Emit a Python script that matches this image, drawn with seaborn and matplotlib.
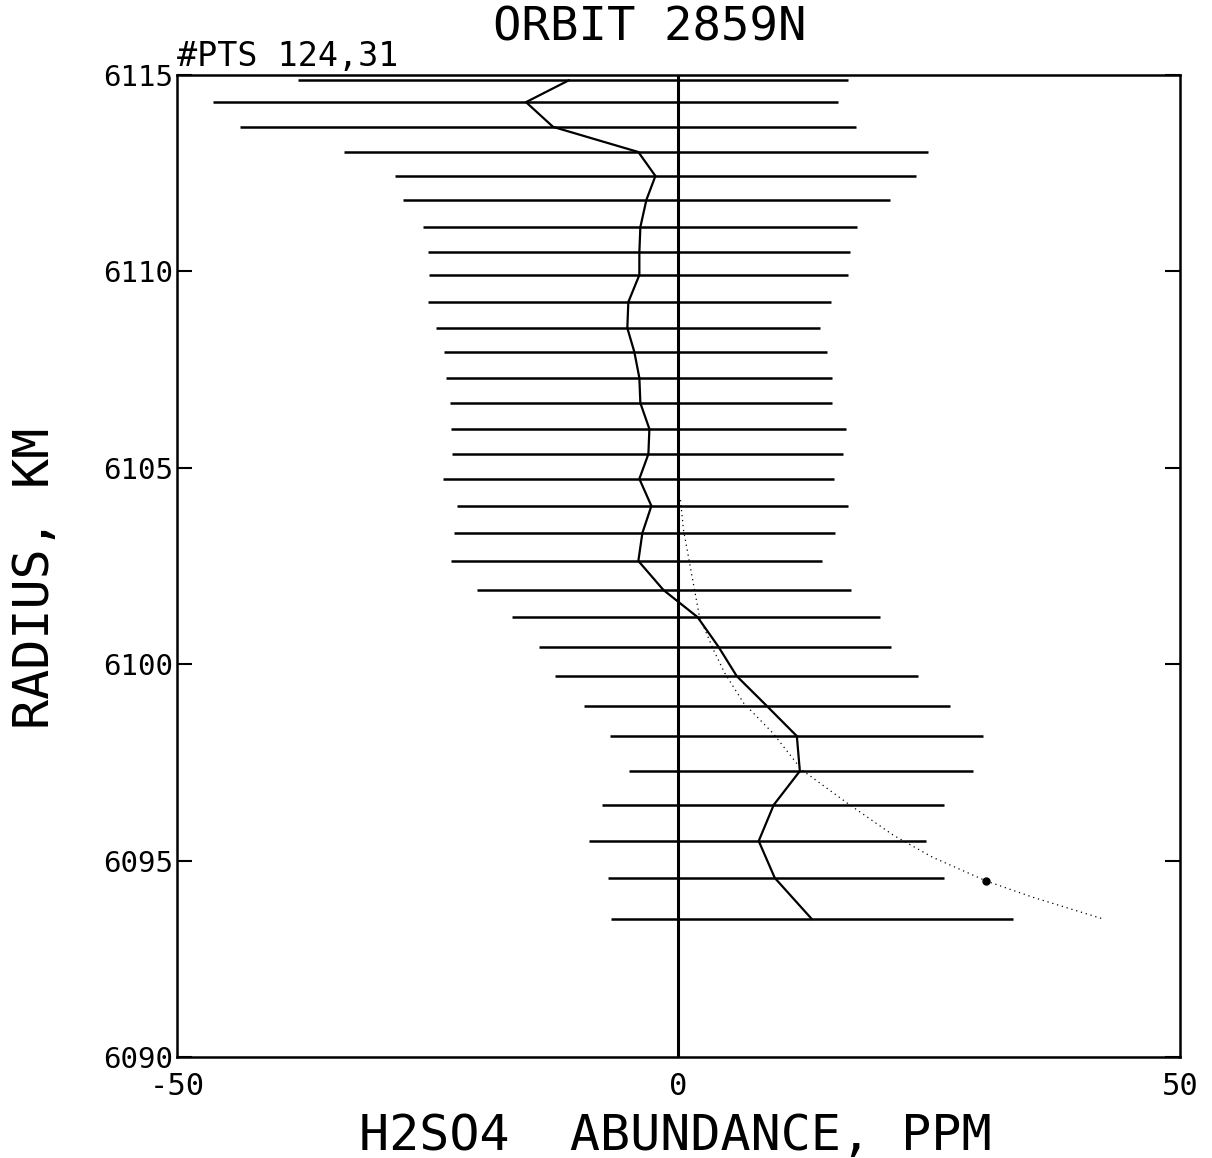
import matplotlib
matplotlib.use("Agg")
import matplotlib.pyplot as plt
import seaborn as sns
import numpy as np
import pandas as pd

# valeurs
radius = [6114.87, 6114.31, 6113.68, 6113.04, 6112.43, 6111.82, 6111.13, 6110.49,
          6109.91, 6109.22, 6108.56, 6107.95, 6107.29, 6106.65, 6105.99, 6105.35,
          6104.72, 6104.03, 6103.34, 6102.63, 6101.89, 6101.20, 6100.44, 6099.70,
          6098.94, 6098.17, 6097.28, 6096.42, 6095.50, 6094.56, 6093.51]
abundance = [-10.9, -15.2, -12.5, -4.0, -2.3, -3.2, -3.8, -3.9,
             -3.9, -5.0, -5.1, -4.4, -3.9, -3.8, -2.9, -3.0,
             -3.9, -2.7, -3.6, -4.0, -1.5, 1.9, 4.0, 5.8,
             8.8, 11.8, 12.1, 9.5, 8.0, 9.6, 13.3]
err_low = [-37.9, -46.4, -43.7, -33.3, -28.3, -27.5, -25.5, -25.0,
           -24.9, -25.0, -24.2, -23.4, -23.2, -22.8, -22.7, -22.6,
           -23.5, -22.1, -22.4, -22.7, -20.1, -16.6, -13.9, -12.3,
           -9.4, -6.8, -4.9, -7.6, -8.9, -7.0, -6.7]
err_high = [16.9, 15.9, 17.7, 24.9, 23.7, 21.1, 17.8, 17.1,
            16.9, 15.2, 14.1, 14.8, 15.3, 15.3, 16.7, 16.4,
            15.5, 16.9, 15.6, 14.3, 17.2, 20.1, 21.2, 23.9,
            27.1, 30.4, 29.4, 26.5, 24.7, 26.5, 33.4]

# courbe pointillée (modèle)
model_radius = [6104.18, 6103.42, 6101.20, 6100.36, 6099.78, 6099.01, 6098.25,
                6097.31, 6096.47, 6095.65, 6095.09, 6094.48, 6094.07, 6093.51]
model_abund = [0.2, 0.5, 2.1, 3.5, 4.6, 6.5, 9.4, 12.3, 16.8, 21.4, 25.3, 30.7, 35.3, 42.4]
dot_radius = [6094.48]
dot_abund = [30.7]

x_ticks = [-50, 0, 50]
y_ticks = [6090, 6095, 6100, 6105, 6110, 6115]

df = pd.DataFrame({"radius": radius, "abundance": abundance,
                   "low": err_low, "high": err_high})
df_model = pd.DataFrame({"radius": model_radius, "abundance": model_abund})

sns.set_style("white")
plt.rcParams["font.family"] = ["DejaVu Sans Mono", "DejaVu Sans"]
plt.rcParams["text.color"] = "black"
plt.rcParams["xtick.color"] = "black"
plt.rcParams["ytick.color"] = "black"

fig = plt.figure(figsize=(12.12, 11.58), dpi=100)
ax = fig.add_axes([0.146, 0.0872, 0.8276, 0.848])

# barres d'erreur horizontales
ax.hlines(df["radius"], df["low"], df["high"], color="black", lw=1.8)

# ligne zéro
ax.axvline(0, color="black", lw=2.2)

# profil mesuré
sns.lineplot(data=df, x="abundance", y="radius", orient="y", estimator=None,
             sort=False, color="black", lw=1.6, ax=ax)

# profil modèle en pointillé
sns.lineplot(data=df_model, x="abundance", y="radius", orient="y", estimator=None,
             sort=False, color="black", lw=0.9, linestyle=(0, (1, 3)), ax=ax)
ax.plot(dot_abund, dot_radius, "o", color="black", ms=5)

ax.set_xlim(-50, 50)
ax.set_ylim(6090, 6115)
ax.set_xticks(x_ticks)
ax.set_xticklabels([str(v) for v in x_ticks])
ax.set_yticks(y_ticks)
ax.set_yticklabels([str(v) for v in y_ticks])
ax.tick_params(axis="y", which="both", direction="in", length=11, width=1.5,
               left=True, right=True, labelsize=21, pad=3)
ax.tick_params(axis="x", length=0, labelsize=22, pad=11)

for sp in ax.spines.values():
    sp.set_color("black")
    sp.set_linewidth(1.8)

ax.set_xlabel("")
ax.set_ylabel("")
fig.text(0.5575, 1 - 1136 / 1158, "H2SO4  ABUNDANCE, PPM", ha="center", va="center",
         fontsize=36)
fig.text(35 / 1212, 1 - 578 / 1158, "RADIUS, KM", ha="center", va="center",
         rotation=90, fontsize=36)
fig.text(650 / 1212, 1 - 28 / 1158, "ORBIT 2859N", ha="center", va="center", fontsize=34)
fig.text(0.146, 0.937, "#PTS 124,31", ha="left", va="bottom", fontsize=24)

fig.savefig("out.png", dpi=100, facecolor="white")
